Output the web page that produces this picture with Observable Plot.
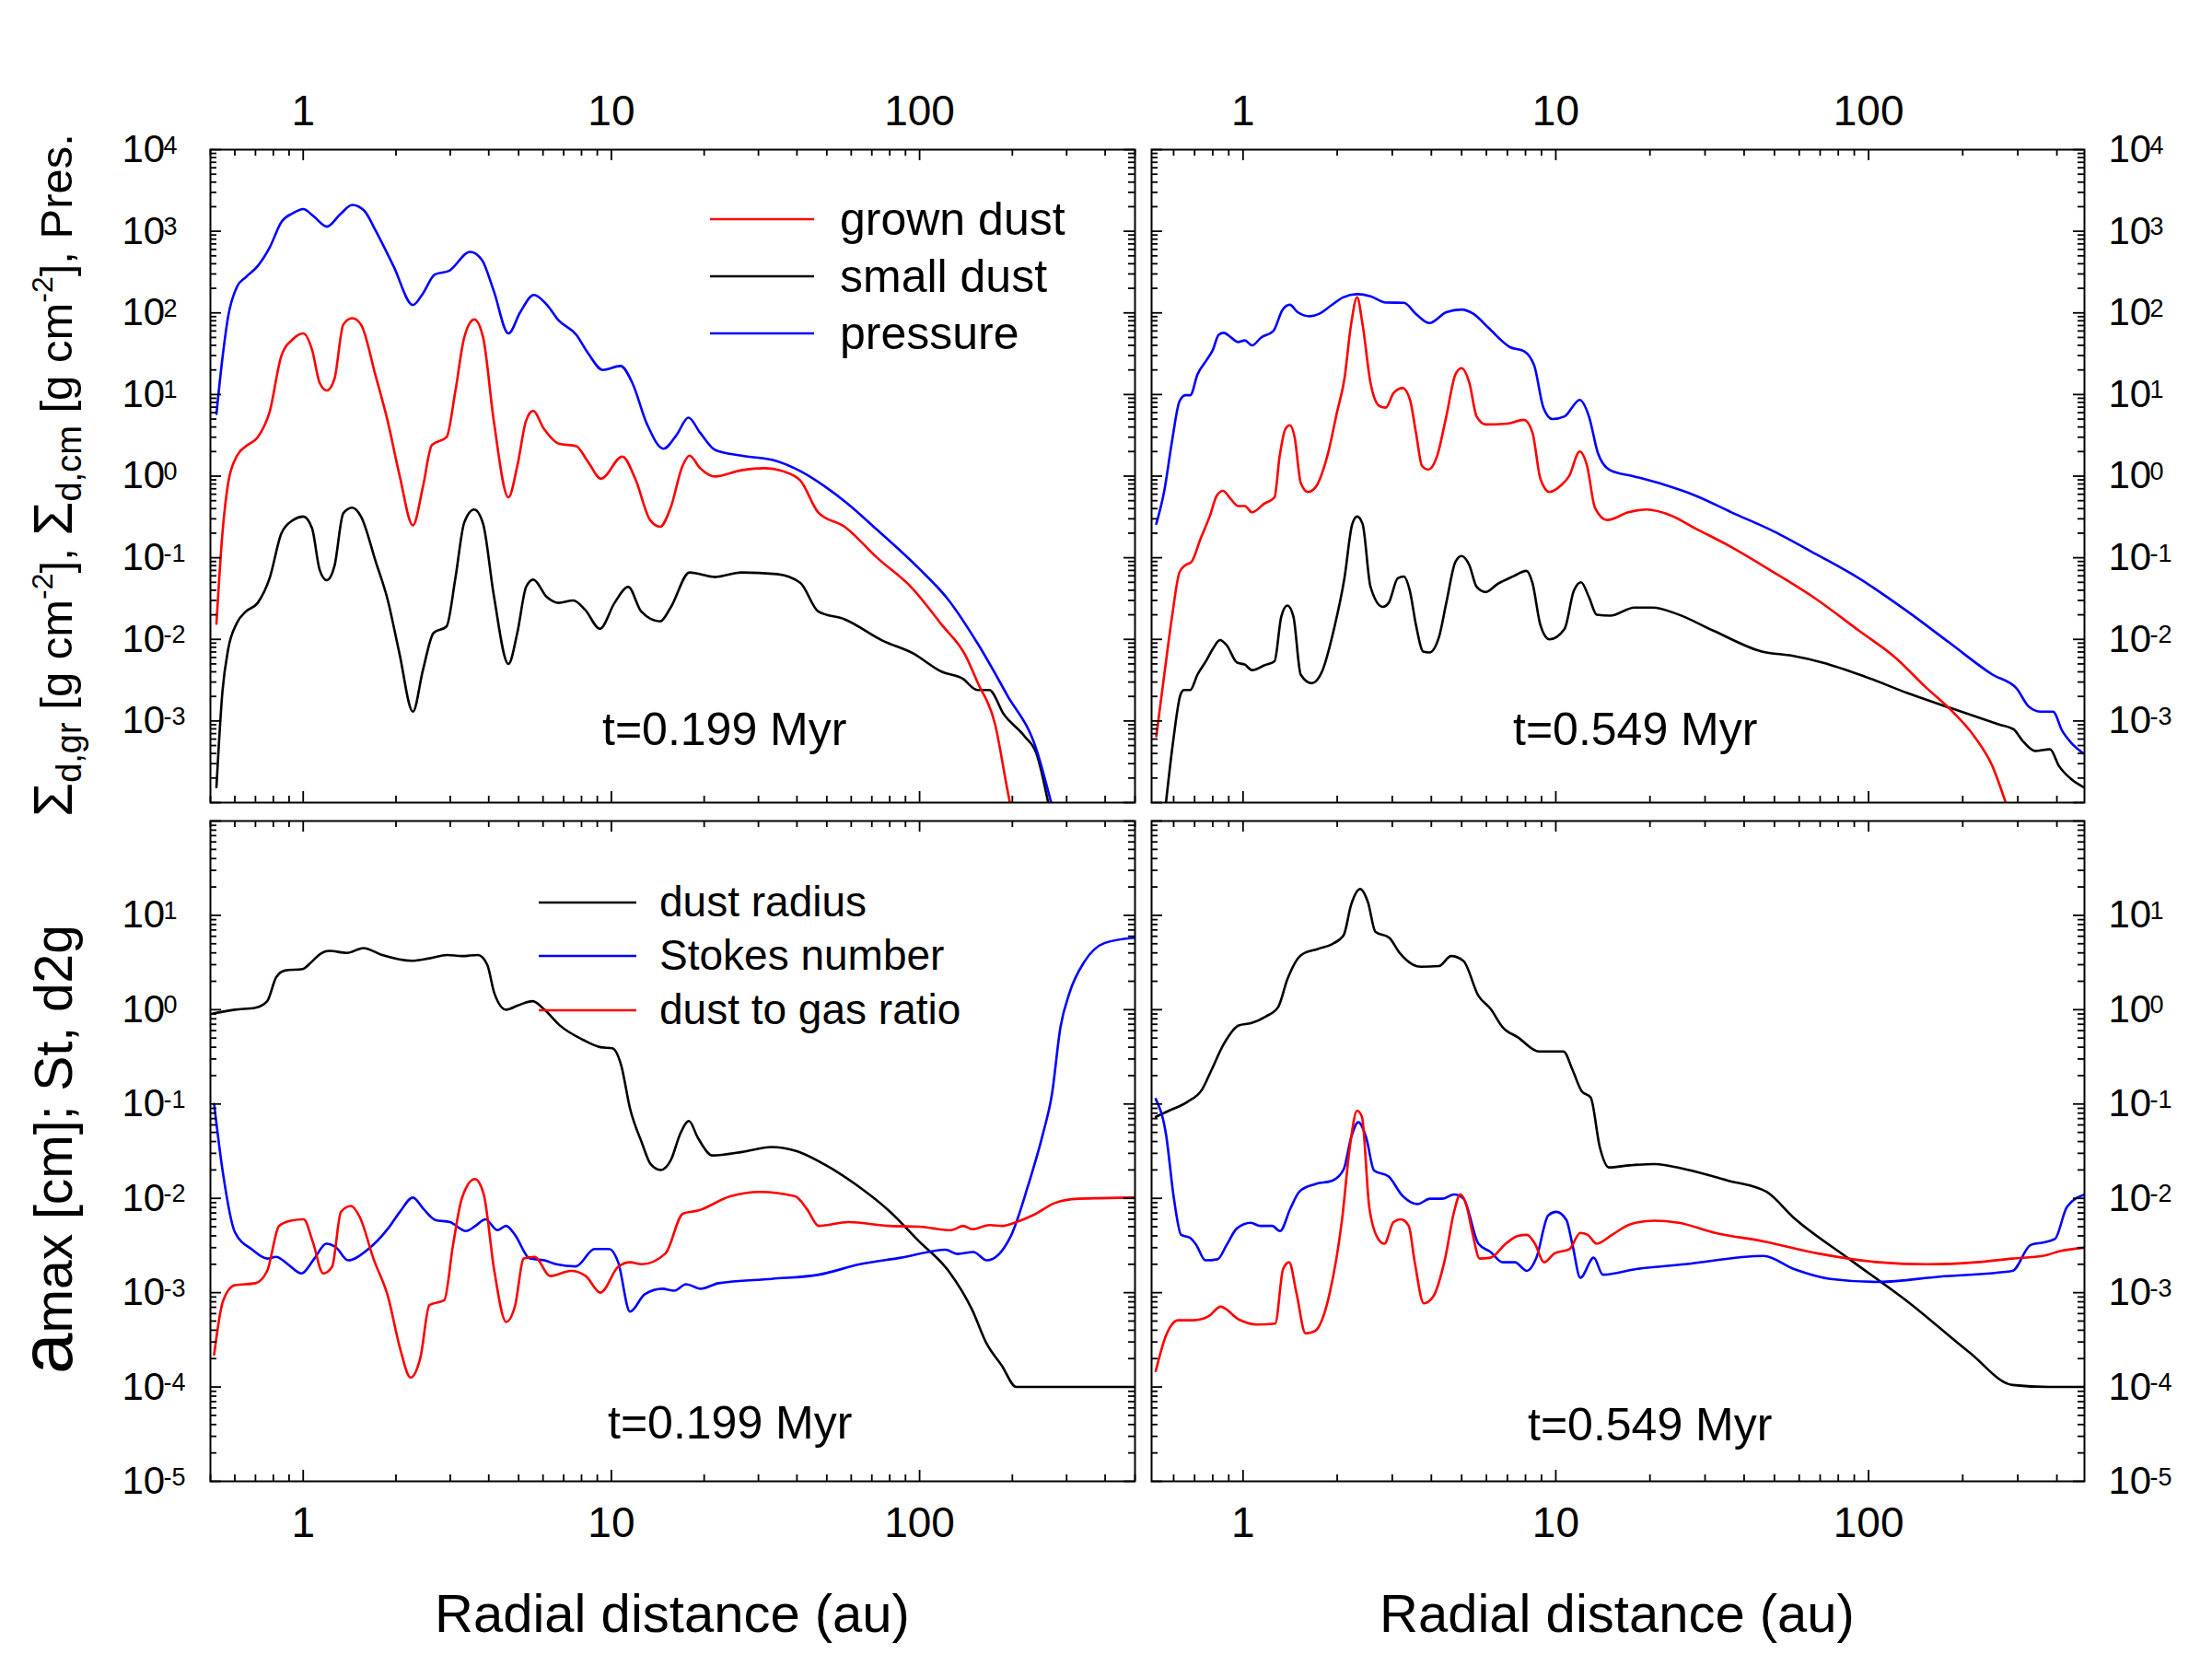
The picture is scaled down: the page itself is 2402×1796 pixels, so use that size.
<!DOCTYPE html>
<html><head><meta charset="utf-8">
<script src="https://cdn.jsdelivr.net/npm/d3@7"></script>
<script src="https://cdn.jsdelivr.net/npm/@observablehq/plot@0.6"></script>
<style>
html,body{margin:0;padding:0;background:#fff;}
#wrap{position:relative;width:2402px;height:1796px;background:#fff;overflow:hidden;}
#wrap > svg{position:absolute;left:0;top:0;}
</style></head><body><div id="wrap"></div>
<script>
// ---------- tick labels ----------
const xTickValues = [1, 10, 100];
const yTicksTop = [1e-3, 1e-2, 1e-1, 1e0, 1e1, 1e2, 1e3, 1e4];
const yExpTop = ["-3", "-2", "-1", "0", "1", "2", "3", "4"];
const yTicksBot = [1e-5, 1e-4, 1e-3, 1e-2, 1e-1, 1e0, 1e1];
const yExpBot = ["-5", "-4", "-3", "-2", "-1", "0", "1"];
const timesLeft = "t=0.199 Myr", timesRight = "t=0.549 Myr";

// ---------- t = 0.199 Myr : surface densities [r (au), value] ----------
const tl_grown = [[0.523,0.0156],[0.547,0.20],[0.571,0.83],[0.610,1.78],[0.652,2.33],[0.712,3.0],[0.778,6.1],[0.850,30],[0.928,48],[1.0,56],[1.068,35.5],[1.131,13.9],[1.193,11.2],[1.263,15.5],[1.349,72],[1.442,86],[1.540,72],[1.720,16.6],[1.878,4.8],[2.051,1.05],[2.270,0.25],[2.446,0.74],[2.614,2.4],[2.918,3.0],[3.117,11],[3.331,50],[3.589,83],[3.835,50],[4.152,4.8],[4.634,0.55],[4.951,1.33],[5.289,4.8],[5.577,6.3],[6.039,3.8],[6.742,2.5],[7.693,2.33],[8.402,1.49],[9.259,0.93],[10.85,1.74],[11.95,0.93],[13.35,0.29],[14.39,0.24],[15.57,0.41],[17.01,1.33],[17.93,1.78],[19.41,1.25],[21.68,0.99],[26.42,1.18],[31.51,1.25],[35.97,1.15],[41.06,0.88],[46.87,0.36],[57.15,0.24],[72.81,0.10],[94.85,0.042],[118.2,0.015],[141.1,0.0063],[154.0,0.0030],[175.8,9.1e-4],[192.0,1.55e-4],[196.3,1e-4]];
const tl_small = [[0.523,1.55e-4],[0.547,0.0023],[0.571,0.0076],[0.610,0.016],[0.652,0.022],[0.712,0.028],[0.778,0.056],[0.850,0.20],[0.928,0.29],[1.0,0.32],[1.068,0.23],[1.131,0.071],[1.193,0.053],[1.263,0.079],[1.349,0.35],[1.442,0.41],[1.540,0.32],[1.720,0.089],[1.878,0.031],[2.051,0.0068],[2.270,0.0013],[2.446,0.0042],[2.649,0.012],[2.918,0.0144],[3.117,0.056],[3.331,0.27],[3.589,0.39],[3.835,0.26],[4.152,0.035],[4.634,0.005],[4.951,0.012],[5.289,0.044],[5.577,0.054],[6.172,0.033],[6.742,0.028],[7.526,0.030],[8.219,0.023],[9.177,0.0135],[10.24,0.028],[11.34,0.044],[12.49,0.022],[14.39,0.0166],[15.57,0.0245],[17.93,0.066],[21.68,0.058],[26.42,0.066],[34.43,0.063],[41.06,0.049],[46.87,0.022],[57.15,0.0176],[76.09,0.0096],[94.85,0.0068],[118.2,0.0040],[137.9,0.0033],[154.0,0.0024],[168.2,0.0024],[187.8,0.0012],[219.1,6.5e-4],[239.3,4.0e-4],[261.4,1e-4]];
const tl_pres = [[0.523,5.8],[0.547,28],[0.571,91],[0.610,210],[0.652,275],[0.712,375],[0.778,630],[0.850,1300],[0.928,1670],[1.0,1870],[1.082,1520],[1.193,1140],[1.320,1620],[1.442,2100],[1.575,1800],[1.720,1010],[1.963,375],[2.270,125],[2.446,173],[2.672,295],[2.983,330],[3.480,560],[3.801,445],[4.152,186],[4.634,56],[5.061,102],[5.602,166],[6.172,126],[6.742,81],[7.693,54],[8.402,32],[9.380,20],[10.71,22.4],[11.69,13.9],[13.06,4.3],[14.77,2.17],[16.28,3.2],[17.78,5.2],[19.41,3.4],[21.68,2.1],[26.42,1.78],[34.43,1.53],[41.06,1.15],[48.98,0.76],[58.42,0.46],[72.81,0.22],[99.1,0.075],[123.6,0.031],[154.0,0.0090],[192.0,0.0021],[239.3,4.5e-4],[267.2,1e-4]];

// ---------- t = 0.549 Myr : surface densities ----------
const tr_pres = [[0.528,0.26],[0.560,0.66],[0.593,2.7],[0.626,8.2],[0.654,9.8],[0.678,9.8],[0.715,17.6],[0.765,26.5],[0.800,35],[0.836,54],[0.867,57],[0.915,50],[0.965,44],[1.013,46],[1.069,40],[1.143,50],[1.250,60],[1.337,109],[1.411,126],[1.495,102],[1.635,91],[1.748,97],[1.911,123],[2.090,155],[2.316,170],[2.556,160],[2.858,134],[3.267,133],[3.572,97],[3.941,75],[4.465,102],[4.993,110],[5.459,97],[6.105,65],[7.138,38],[7.911,34],[8.535,22.5],[9.127,6.9],[9.757,5.0],[10.67,5.4],[11.93,8.6],[12.76,5.4],[13.64,1.9],[14.92,1.18],[17.84,0.99],[22.30,0.78],[27.87,0.58],[36.44,0.36],[49.83,0.21],[68.12,0.11],[93.1,0.056],[133.1,0.022],[182.0,0.0090],[248.8,0.0037],[297.4,0.0025],[325.2,0.0015],[355.6,0.0013],[388.8,0.0013],[415.7,7.6e-4],[444.5,5.4e-4],[486.1,4.0e-4]];
const tr_grown = [[0.528,6.5e-4],[0.560,0.0037],[0.593,0.019],[0.626,0.066],[0.654,0.081],[0.684,0.089],[0.731,0.17],[0.782,0.32],[0.825,0.58],[0.863,0.66],[0.915,0.52],[0.965,0.43],[1.013,0.43],[1.069,0.36],[1.169,0.46],[1.261,0.55],[1.307,1.67],[1.367,3.8],[1.411,4.2],[1.462,3.0],[1.529,0.83],[1.613,0.64],[1.709,0.74],[1.869,1.9],[1.998,6.1],[2.109,15.5],[2.215,72],[2.316,155],[2.411,72],[2.556,13.9],[2.733,7.2],[2.858,6.9],[3.028,10.4],[3.238,12],[3.416,8.7],[3.572,3.4],[3.735,1.33],[3.906,1.2],[4.176,1.78],[4.465,5.4],[4.775,17.6],[4.993,21],[5.291,13.9],[5.582,5.4],[5.970,4.3],[6.980,4.4],[7.911,4.9],[8.422,3.4],[8.925,0.93],[9.541,0.64],[10.43,0.78],[11.01,0.99],[11.93,2.0],[12.59,1.33],[13.34,0.41],[14.59,0.29],[17.06,0.36],[19.50,0.39],[23.32,0.33],[27.87,0.23],[36.44,0.135],[49.83,0.066],[68.12,0.031],[93.1,0.0128],[121.7,0.0060],[152.2,0.0026],[182.0,0.0014],[217.6,6.5e-4],[248.8,2.8e-4],[274.4,1e-4]];
const tr_small = [[0.567,1e-4],[0.598,5.7e-4],[0.631,0.0021],[0.648,0.0024],[0.678,0.0024],[0.715,0.0037],[0.765,0.0056],[0.800,0.0076],[0.844,0.0098],[0.886,0.0085],[0.956,0.0052],[1.013,0.0049],[1.069,0.0042],[1.169,0.0048],[1.261,0.0054],[1.325,0.019],[1.386,0.026],[1.449,0.019],[1.529,0.0037],[1.657,0.0029],[1.787,0.0040],[1.954,0.0135],[2.109,0.056],[2.235,0.26],[2.316,0.32],[2.411,0.26],[2.556,0.044],[2.795,0.025],[2.922,0.028],[3.124,0.056],[3.267,0.059],[3.416,0.039],[3.572,0.015],[3.768,0.0071],[3.941,0.0069],[4.232,0.0107],[4.465,0.028],[4.775,0.089],[4.993,0.105],[5.291,0.081],[5.582,0.044],[5.970,0.038],[6.527,0.048],[7.299,0.059],[8.054,0.069],[8.422,0.049],[8.925,0.015],[9.541,0.010],[10.67,0.0135],[11.41,0.039],[12.04,0.050],[12.76,0.033],[13.52,0.020],[14.92,0.0195],[17.84,0.0245],[20.39,0.0245],[24.38,0.0205],[31.87,0.0128],[45.57,0.0071],[56.96,0.0063],[71.23,0.0052],[97.4,0.0035],[133.1,0.0022],[182.0,0.00145],[260.2,9.1e-4],[290.8,7.9e-4],[311.0,5.7e-4],[340.1,4.3e-4],[380.2,4.5e-4],[406.5,2.8e-4],[444.5,1.94e-4],[486.1,1.55e-4]];

// ---------- t = 0.199 Myr : amax, St, d2g ----------
const bl_radius = [[0.503,0.90],[0.600,1.0],[0.700,1.05],[0.764,1.23],[0.817,2.2],[0.872,2.6],[0.996,2.7],[1.064,3.2],[1.136,3.9],[1.214,4.2],[1.386,4.0],[1.567,4.5],[1.805,3.8],[2.250,3.3],[2.568,3.5],[2.931,3.8],[3.272,3.7],[3.687,3.8],[3.955,3.0],[4.170,1.5],[4.554,1.0],[4.973,1.11],[5.554,1.23],[6.064,1.0],[6.770,0.69],[8.076,0.48],[9.218,0.40],[10.07,0.39],[10.75,0.26],[11.49,0.090],[12.55,0.039],[13.41,0.023],[14.45,0.020],[15.64,0.026],[16.71,0.048],[17.85,0.066],[19.07,0.044],[21.29,0.0285],[26.54,0.031],[33.08,0.035],[39.47,0.032],[51.40,0.021],[64.09,0.013],[79.87,0.0073],[99.6,0.0035],[124.1,0.0017],[148.0,6.6e-4],[165.3,2.85e-4],[184.5,1.7e-4],[206.0,1.0e-4],[499.5,1.0e-4]];
const bl_stokes = [[0.514,0.10],[0.549,0.0186],[0.600,0.0044],[0.684,0.00285],[0.764,0.0023],[0.817,0.0024],[0.892,0.0020],[0.987,0.0016],[1.087,0.0023],[1.188,0.0033],[1.280,0.0030],[1.398,0.0022],[1.617,0.00285],[1.886,0.0048],[2.060,0.0072],[2.270,0.0102],[2.458,0.0077],[2.684,0.0059],[2.996,0.0056],[3.375,0.0045],[3.622,0.0051],[3.903,0.0060],[4.263,0.0046],[4.554,0.0051],[4.865,0.0041],[5.433,0.0023],[6.064,0.0022],[6.623,0.0020],[7.660,0.0019],[8.821,0.0029],[9.847,0.0029],[10.52,0.0021],[11.49,6.3e-4],[12.83,9.6e-4],[14.64,0.0011],[15.99,0.00105],[17.46,0.00123],[19.50,0.0011],[22.25,0.00126],[33.08,0.0014],[47.07,0.00155],[64.09,0.0020],[87.27,0.00235],[121.4,0.00285],[132.6,0.00257],[149.4,0.0027],[165.3,0.0022],[197.1,0.0039],[225.0,0.0137],[251.2,0.048],[268.4,0.123],[286.7,0.66],[306.3,1.5],[342.0,3.2],[399.0,5.1],[499.5,5.8]];
const bl_d2g = [[0.514,2.2e-4],[0.549,8.1e-4],[0.600,0.0012],[0.700,0.00126],[0.764,0.0017],[0.835,0.0051],[0.912,0.0058],[1.004,0.0060],[1.073,0.0035],[1.162,0.0016],[1.241,0.00188],[1.326,0.0072],[1.429,0.0083],[1.527,0.0063],[1.690,0.0023],[1.886,9.0e-4],[2.060,2.6e-4],[2.230,1.26e-4],[2.404,2.1e-4],[2.568,7.4e-4],[2.868,8.3e-4],[3.063,0.0032],[3.272,0.010],[3.606,0.016],[3.851,0.0111],[4.170,0.0017],[4.554,4.9e-4],[4.865,7.2e-4],[5.198,0.0023],[5.628,0.0024],[6.338,0.0015],[7.395,0.0017],[8.257,0.0015],[9.218,0.0010],[10.52,0.00188],[11.49,0.0021],[12.55,0.0020],[14.97,0.0026],[17.08,0.0069],[19.07,0.0074],[24.30,0.0105],[30.29,0.0117],[39.47,0.0105],[43.10,0.0077],[47.07,0.0051],[58.67,0.0056],[79.87,0.0051],[99.6,0.0050],[126.9,0.0046],[138.6,0.0051],[148.0,0.0047],[169.0,0.0052],[184.5,0.0051],[206.0,0.0056],[235.1,0.0067],[274.3,0.0089],[327.2,0.0099],[499.5,0.0102]];

// ---------- t = 0.549 Myr : amax, St, d2g ----------
const br_radius = [[0.526,0.073],[0.580,0.085],[0.663,0.105],[0.741,0.144],[0.793,0.23],[0.867,0.43],[0.969,0.68],[1.060,0.72],[1.185,0.85],[1.296,1.07],[1.386,2.1],[1.535,3.8],[1.733,4.4],[1.937,5.0],[2.099,6.2],[2.215,12.9],[2.368,19],[2.509,13.7],[2.648,6.7],[2.934,5.8],[3.166,4.0],[3.702,2.85],[4.232,2.9],[4.627,3.7],[5.061,3.3],[5.658,1.4],[6.187,1.02],[6.767,0.65],[7.564,0.51],[8.846,0.36],[10.58,0.36],[11.31,0.23],[12.09,0.137],[12.93,0.117],[13.82,0.035],[14.78,0.0213],[17.28,0.0224],[20.66,0.0231],[25.84,0.0204],[35.32,0.0155],[47.21,0.0117],[57.72,0.0062],[86.30,0.0023],[134.9,7.8e-4],[210.9,2.3e-4],[288.3,1.05e-4],[376.9,1e-4],[492.6,1e-4]];
const br_stokes = [[0.526,0.113],[0.567,0.048],[0.601,0.010],[0.634,0.0041],[0.678,0.0038],[0.709,0.0032],[0.758,0.0022],[0.829,0.00226],[0.886,0.0032],[0.956,0.0048],[1.060,0.0055],[1.133,0.0051],[1.239,0.0051],[1.313,0.0045],[1.417,0.0078],[1.515,0.0118],[1.694,0.0141],[1.937,0.0155],[2.099,0.0204],[2.215,0.044],[2.337,0.064],[2.476,0.044],[2.624,0.0197],[2.921,0.017],[3.238,0.0106],[3.620,0.0087],[3.958,0.0099],[4.328,0.0099],[4.732,0.011],[5.061,0.010],[5.658,0.0033],[6.187,0.0027],[6.767,0.0021],[7.397,0.0021],[8.088,0.0017],[8.650,0.0023],[9.458,0.0066],[10.02,0.0072],[10.81,0.0059],[11.31,0.0032],[11.98,0.00144],[13.22,0.00235],[14.14,0.00155],[18.07,0.00178],[25.84,0.0020],[46.17,0.00245],[57.72,0.00178],[75.47,0.0014],[107.9,0.0013],[168.7,0.00148],[288.3,0.0017],[329.6,0.0032],[360.5,0.0034],[394.1,0.0037],[430.9,0.0081],[492.6,0.011]];
const br_d2g = [[0.526,1.48e-4],[0.567,3.5e-4],[0.620,5.1e-4],[0.693,5.1e-4],[0.775,5.6e-4],[0.848,7.1e-4],[0.969,5.2e-4],[1.108,4.6e-4],[1.267,4.7e-4],[1.343,0.00178],[1.404,0.0021],[1.481,0.0010],[1.584,3.7e-4],[1.694,3.9e-4],[1.894,0.0010],[2.072,0.0059],[2.195,0.035],[2.316,0.085],[2.400,0.073],[2.532,0.0081],[2.707,0.0037],[2.831,0.0033],[3.028,0.0056],[3.194,0.0060],[3.386,0.0051],[3.540,0.0021],[3.785,7.7e-4],[4.047,9.0e-4],[4.426,0.0023],[4.732,0.0073],[4.949,0.011],[5.175,0.0085],[5.412,0.0043],[5.709,0.0023],[6.187,0.00235],[6.918,0.0033],[7.564,0.0040],[8.088,0.0041],[8.574,0.0033],[9.167,0.0021],[9.890,0.0026],[11.06,0.0029],[11.98,0.0043],[12.65,0.0041],[13.52,0.0033],[15.12,0.0041],[17.28,0.0053],[20.66,0.0058],[24.71,0.0055],[32.30,0.0043],[46.17,0.0035],[69.02,0.0026],[107.9,0.0021],[154.2,0.0020],[220.5,0.0021],[288.3,0.0023],[360.5,0.00245],[412.1,0.00277],[492.6,0.0030]];

// ---------- drawing ----------
const W = 2402, H = 1796;
const FONT = 'Arial, "Liberation Sans", "Helvetica", sans-serif';
const RED = "#ff0000", BLUE = "#0000ff", BLACK = "#000000";
const isDecade = v => Math.abs(Math.log10(v) - Math.round(Math.log10(v))) < 1e-9;

function panel(cfg) {
  const {x0, x1, y0, y1, xDomain, yDomain, series, yTicks, yExps, ySide, xSide} = cfg;
  const fw = x1 - x0, fh = y1 - y0;
  const xAll = d3.scaleLog().domain(xDomain).ticks();
  const yAll = d3.scaleLog().domain(yDomain).ticks();
  const xMaj = xAll.filter(isDecade), xMin = xAll.filter(v => !isDecade(v));
  const yMaj = yAll.filter(isDecade), yMin = yAll.filter(v => !isDecade(v));
  const tk = {stroke: BLACK, strokeWidth: 1.8};
  const labDx = ySide === "left" ? -96 : 26;
  return Plot.plot({
    width: W, height: H,
    marginLeft: x0, marginRight: W - x1, marginTop: y0, marginBottom: H - y1,
    x: {type: "log", domain: xDomain, axis: null},
    y: {type: "log", domain: yDomain, axis: null},
    style: {background: "transparent", fontFamily: FONT, overflow: "visible"},
    marks: [
      ...series.map(s => Plot.line(s.data, {x: d => d[0], y: d => d[1], stroke: s.color, strokeWidth: 2.6, curve: "monotone-x", clip: true})),
      Plot.tickX(xMaj, {x: d => d, insetTop: fh - 12, ...tk}),
      Plot.tickX(xMaj, {x: d => d, insetBottom: fh - 12, ...tk}),
      Plot.tickX(xMin, {x: d => d, insetTop: fh - 7, ...tk}),
      Plot.tickX(xMin, {x: d => d, insetBottom: fh - 7, ...tk}),
      Plot.tickY(yMaj, {y: d => d, insetRight: fw - 12, ...tk}),
      Plot.tickY(yMaj, {y: d => d, insetLeft: fw - 12, ...tk}),
      Plot.tickY(yMin, {y: d => d, insetRight: fw - 7, ...tk}),
      Plot.tickY(yMin, {y: d => d, insetLeft: fw - 7, ...tk}),
      Plot.frame({stroke: BLACK, strokeWidth: 2}),
      Plot.text(yTicks, {y: d => d, text: () => "10", frameAnchor: ySide, textAnchor: "start", lineAnchor: "middle", dx: labDx, fontSize: 42, fill: BLACK}),
      Plot.text(yTicks, {y: d => d, text: (d, i) => yExps[i], frameAnchor: ySide, textAnchor: "start", lineAnchor: "middle", dx: labDx + 45, dy: -4.6, fontSize: 27, fill: BLACK}),
      Plot.text(xTickValues, {x: d => d, text: d => String(d), frameAnchor: xSide, lineAnchor: "middle", dy: xSide === "top" ? -41 : 46, fontSize: 46, fill: BLACK})
    ]
  });
}

const wrap = document.getElementById("wrap");
const XL = [228, 1232], XR = [1250, 2263];
const YT = [162, 871], YB = [891, 1608];
const domL = [0.5, 500], domR = [0.51, 490];
const yDomTop = [1e-4, 1e4], yDomBot = [1e-5, 1e2];

wrap.appendChild(panel({x0: XL[0], x1: XL[1], y0: YT[0], y1: YT[1], xDomain: domL, yDomain: yDomTop,
  series: [{data: tl_small, color: BLACK}, {data: tl_grown, color: RED}, {data: tl_pres, color: BLUE}],
  yTicks: yTicksTop, yExps: yExpTop, ySide: "left", xSide: "top"}));
wrap.appendChild(panel({x0: XR[0], x1: XR[1], y0: YT[0], y1: YT[1], xDomain: domR, yDomain: yDomTop,
  series: [{data: tr_small, color: BLACK}, {data: tr_grown, color: RED}, {data: tr_pres, color: BLUE}],
  yTicks: yTicksTop, yExps: yExpTop, ySide: "right", xSide: "top"}));
wrap.appendChild(panel({x0: XL[0], x1: XL[1], y0: YB[0], y1: YB[1], xDomain: domL, yDomain: yDomBot,
  series: [{data: bl_radius, color: BLACK}, {data: bl_stokes, color: BLUE}, {data: bl_d2g, color: RED}],
  yTicks: yTicksBot, yExps: yExpBot, ySide: "left", xSide: "bottom"}));
wrap.appendChild(panel({x0: XR[0], x1: XR[1], y0: YB[0], y1: YB[1], xDomain: domR, yDomain: yDomBot,
  series: [{data: br_radius, color: BLACK}, {data: br_stokes, color: BLUE}, {data: br_d2g, color: RED}],
  yTicks: yTicksBot, yExps: yExpBot, ySide: "right", xSide: "bottom"}));

// ---------- titles, legends, annotations ----------
const ns = "http://www.w3.org/2000/svg";
const ov = document.createElementNS(ns, "svg");
ov.setAttribute("width", W); ov.setAttribute("height", H);
ov.setAttribute("font-family", FONT);
ov.innerHTML = `
<text transform="translate(78,516) rotate(-90)" text-anchor="middle" font-size="49" fill="#000"><tspan font-size="60">Σ</tspan><tspan font-size="38" dy="10">d,gr</tspan><tspan dy="-10"> [g cm</tspan><tspan font-size="32" dy="-21">-2</tspan><tspan dy="21">], </tspan><tspan font-size="60">Σ</tspan><tspan font-size="38" dy="10">d,cm</tspan><tspan dy="-10"> [g cm</tspan><tspan font-size="32" dy="-21">-2</tspan><tspan dy="21">], Pres.</tspan></text>
<text transform="translate(78,1248) rotate(-90)" text-anchor="middle" font-size="57" fill="#000"><tspan font-size="80">a</tspan>max [cm]; St, d2g</text>
<text x="730" y="1772" text-anchor="middle" font-size="58">Radial distance (au)</text>
<text x="1756" y="1772" text-anchor="middle" font-size="58">Radial distance (au)</text>
<text x="654" y="809" font-size="50">${timesLeft}</text>
<text x="1643" y="809" font-size="50">${timesRight}</text>
<text x="660" y="1562" font-size="50">${timesLeft}</text>
<text x="1659" y="1564" font-size="50">${timesRight}</text>
<g stroke-width="2.6">
<line x1="771" x2="884" y1="238" y2="238" stroke="${RED}"/>
<line x1="771" x2="884" y1="300" y2="300" stroke="${BLACK}"/>
<line x1="771" x2="884" y1="362" y2="362" stroke="${BLUE}"/>
<line x1="585" x2="691" y1="980" y2="980" stroke="${BLACK}"/>
<line x1="585" x2="691" y1="1038" y2="1038" stroke="${BLUE}"/>
<line x1="585" x2="691" y1="1097" y2="1097" stroke="${RED}"/>
</g>
<g font-size="50"><text x="912" y="255">grown dust</text><text x="912" y="317">small dust</text><text x="912" y="379">pressure</text></g>
<g font-size="46"><text x="716" y="995">dust radius</text><text x="716" y="1053">Stokes number</text><text x="716" y="1112">dust to gas ratio</text></g>
`;
wrap.appendChild(ov);
</script></body></html>
